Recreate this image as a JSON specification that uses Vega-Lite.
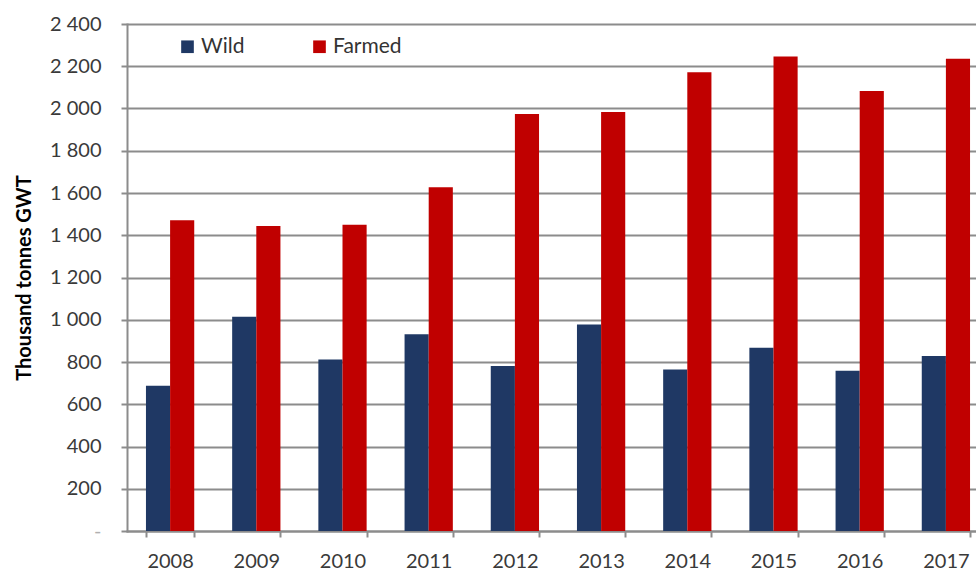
{
  "$schema": "https://vega.github.io/schema/vega-lite/v6.json",
  "autosize": {"type": "none"},
  "padding": {"left": 127, "top": 24, "right": 0, "bottom": 41},
  "width": 849,
  "height": 507,
  "background": "white",
  "data": {
    "values": [
      {"year": "2008", "type": "Wild", "value": 687},
      {"year": "2008", "type": "Farmed", "value": 1471},
      {"year": "2009", "type": "Wild", "value": 1014},
      {"year": "2009", "type": "Farmed", "value": 1444},
      {"year": "2010", "type": "Wild", "value": 812},
      {"year": "2010", "type": "Farmed", "value": 1450},
      {"year": "2011", "type": "Wild", "value": 931},
      {"year": "2011", "type": "Farmed", "value": 1627},
      {"year": "2012", "type": "Wild", "value": 781},
      {"year": "2012", "type": "Farmed", "value": 1974},
      {"year": "2013", "type": "Wild", "value": 978},
      {"year": "2013", "type": "Farmed", "value": 1984},
      {"year": "2014", "type": "Wild", "value": 765},
      {"year": "2014", "type": "Farmed", "value": 2172},
      {"year": "2015", "type": "Wild", "value": 867},
      {"year": "2015", "type": "Farmed", "value": 2246},
      {"year": "2016", "type": "Wild", "value": 758},
      {"year": "2016", "type": "Farmed", "value": 2083},
      {"year": "2017", "type": "Wild", "value": 828},
      {"year": "2017", "type": "Farmed", "value": 2236}
    ]
  },
  "mark": {"type": "bar", "clip": true},
  "encoding": {
    "x": {
      "field": "year",
      "type": "ordinal",
      "title": null,
      "scale": {"range": [0, 862], "paddingInner": 0.44, "paddingOuter": 0.22},
      "axis": {
        "labelAngle": 0,
        "labelFont": "Lato",
        "labelFontSize": 20,
        "labelColor": "#3a3a3a",
        "labelPadding": 14,
        "tickBand": "extent",
        "tickSize": 6,
        "tickColor": "#8c8c8c",
        "tickWidth": 2,
        "domainColor": "#8c8c8c",
        "domainWidth": 2
      }
    },
    "xOffset": {
      "field": "type",
      "type": "nominal",
      "sort": ["Wild", "Farmed"],
      "scale": {"paddingInner": 0, "paddingOuter": 0}
    },
    "y": {
      "field": "value",
      "type": "quantitative",
      "title": "Thousand tonnes GWT",
      "scale": {"domain": [0, 2400], "nice": false},
      "axis": {
        "values": [0, 200, 400, 600, 800, 1000, 1200, 1400, 1600, 1800, 2000, 2200, 2400],
        "labelExpr": "datum.value === 0 ? '-' : replace(format(datum.value, ','), ',', ' ')",
        "labelFont": "Lato",
        "labelFontSize": 20,
        "labelColor": {"condition": {"test": "datum.value === 0", "value": "#b0b0b0"}, "value": "#3a3a3a"},
        "labelPadding": 20,
        "tickSize": 6,
        "tickColor": "#8c8c8c",
        "tickWidth": 2,
        "domainColor": "#8c8c8c",
        "domainWidth": 2,
        "grid": true,
        "gridColor": "#8c8c8c",
        "gridWidth": 2,
        "titleFont": "Lato",
        "titleFontSize": 20,
        "titleFontWeight": "bold",
        "titleColor": "#000000",
        "titlePadding": 15
      }
    },
    "color": {
      "field": "type",
      "type": "nominal",
      "sort": ["Wild", "Farmed"],
      "scale": {"domain": ["Wild", "Farmed"], "range": ["#1f3864", "#c00000"]},
      "legend": {
        "title": null,
        "orient": "none",
        "legendX": 50,
        "legendY": 12,
        "direction": "horizontal",
        "padding": 0,
        "symbolType": "square",
        "symbolSize": 160,
        "symbolStrokeWidth": 0,
        "labelFont": "Lato",
        "labelFontSize": 21,
        "labelColor": "#333333",
        "labelOffset": 3,
        "columnPadding": 64
      }
    }
  },
  "config": {
    "view": {"stroke": null},
    "axis": {"domainCap": "square"}
  }
}
